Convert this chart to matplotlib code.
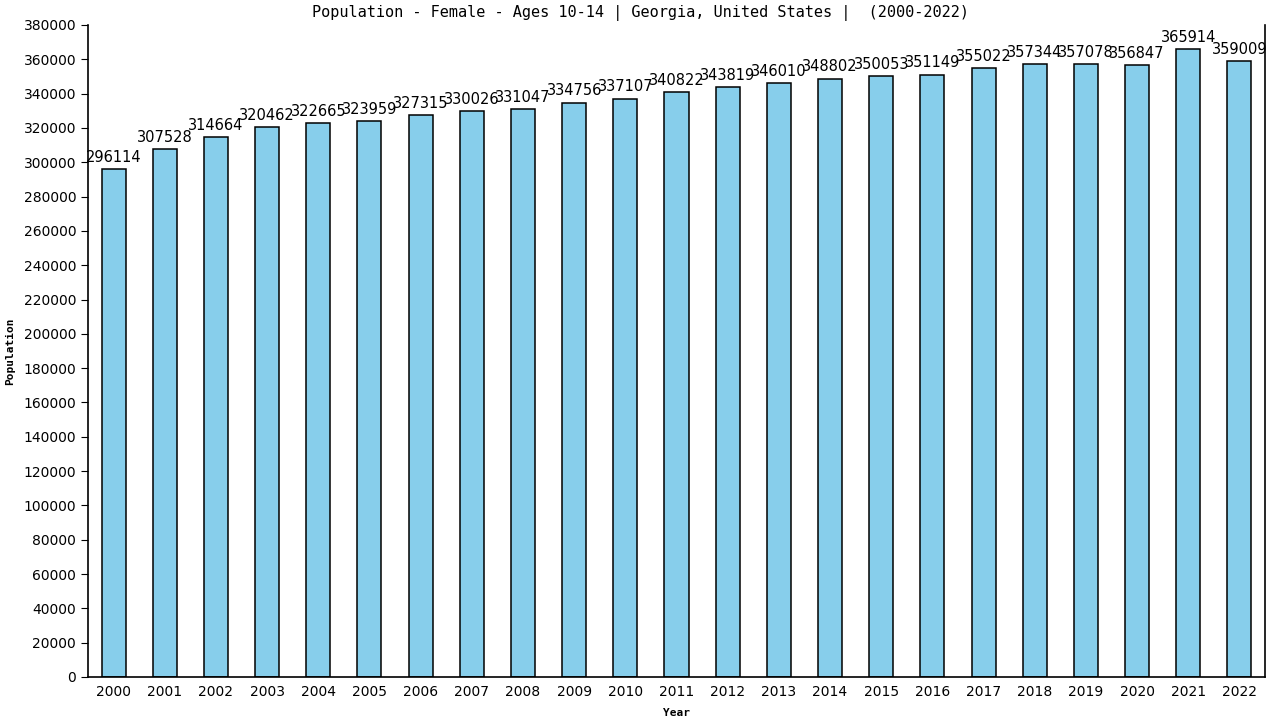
import matplotlib
matplotlib.use('Agg')
import matplotlib.pyplot as plt
import numpy as np

# data
years = [str(y) for y in range(2000, 2023)]
population = [296114, 307528, 314664, 320462, 322665, 323959, 327315, 330026,
              331047, 334756, 337107, 340822, 343819, 346010, 348802, 350053,
              351149, 355022, 357344, 357078, 356847, 365914, 359009]
y_ticks = list(range(0, 380001, 20000))

title = 'Population - Female - Ages 10-14 | Georgia, United States |  (2000-2022)'

fig = plt.figure(figsize=(12.8, 7.2), dpi=100)
ax = fig.add_axes([88/1280, 43/720, (1265-88)/1280, (677-25)/720])

x = np.arange(len(years))
ax.bar(x, population, width=0.47, color='#87CEEB', edgecolor='black', linewidth=1.1)

for xi, v in zip(x, population):
    ax.annotate(f'{v}', (xi, v), xytext=(0, 3), textcoords='offset points',
                ha='center', va='bottom', fontsize=10.5, color='black')

ax.set_xlim(-0.5, len(years) - 0.5)
ax.set_ylim(0, 380000)
ax.set_yticks(y_ticks)
ax.set_yticklabels([str(t) for t in y_ticks], fontsize=10)
ax.set_xticks(x)
ax.set_xticklabels(years, fontsize=10)
ax.tick_params(axis='x', length=0, pad=6)
ax.tick_params(axis='y', length=5, direction='out')

ax.spines['top'].set_visible(False)
for s in ['left', 'right', 'bottom']:
    ax.spines[s].set_linewidth(1.2)

ax.set_xlabel('Year', fontsize=8, fontweight='bold', family='DejaVu Sans Mono')
ax.set_ylabel('Population', fontsize=8, fontweight='bold', family='DejaVu Sans Mono')
ax.xaxis.set_label_coords(0.5, -0.048)
ax.yaxis.set_label_coords(-0.0615, 0.5)

fig.text(0.5, 1 - 13/720, title, ha='center', va='center',
         fontsize=11, family='DejaVu Sans Mono')

fig.savefig('out.png', dpi=100, facecolor='white')
